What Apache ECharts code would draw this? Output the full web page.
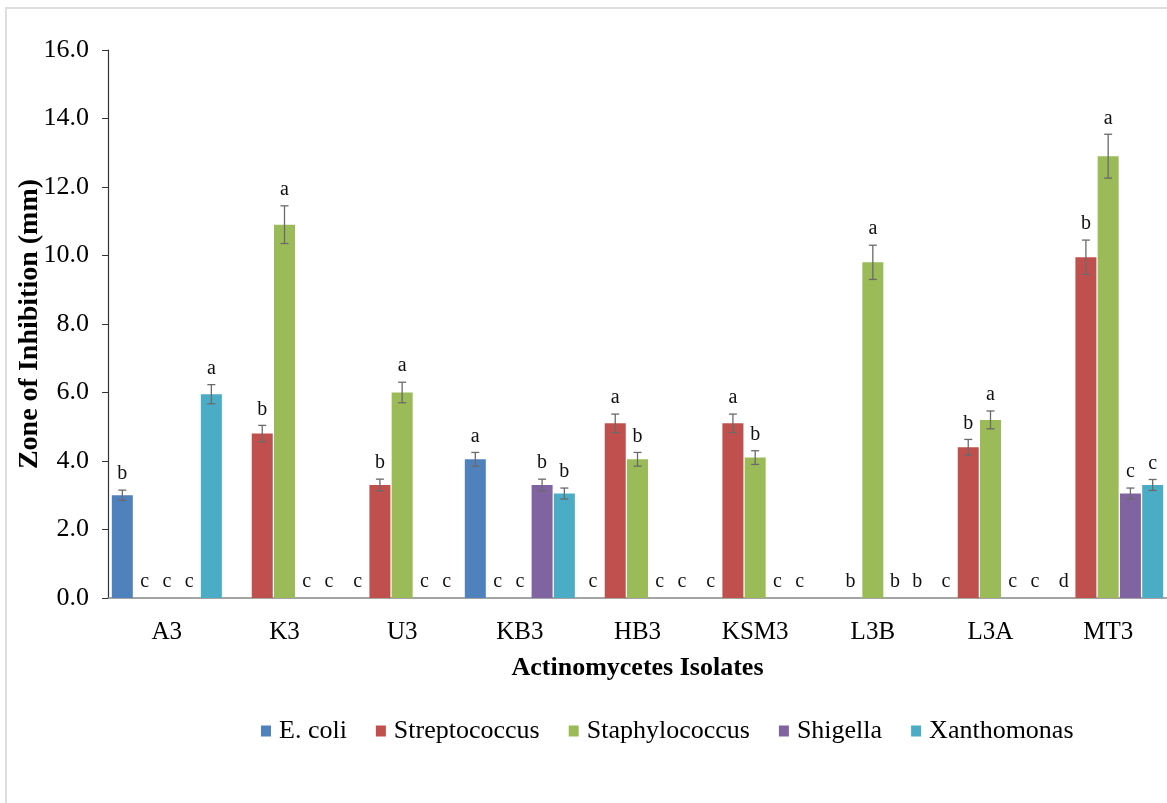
<!DOCTYPE html>
<html>
<head>
<meta charset="utf-8">
<script src="https://cdn.jsdelivr.net/npm/echarts@6/dist/echarts.min.js"></script>
<style>
html,body{margin:0;padding:0;background:#fff;overflow:hidden;}
#frame{position:absolute;left:5px;top:7px;width:1300px;height:900px;border:2px solid #dedede;}
#chart{position:absolute;left:0;top:0;width:1167px;height:803px;}
</style>
</head>
<body>
<div id="frame"></div>
<div id="chart"></div>
<script>
var isolates = ['A3','K3','U3','KB3','HB3','KSM3','L3B','L3A','MT3'];
var bacteria = ['E. coli','Streptococcus','Staphylococcus','Shigella','Xanthomonas'];
var colors = ['#4F81BD','#C0504D','#9BBB59','#8064A2','#4BACC6'];

// zone of inhibition (mm), per bacterium, over isolates
var ecoli   = [3.0, 0, 0, 4.05, 0, 0, 0, 0, 0];
var strep   = [0, 4.8, 3.3, 0, 5.1, 5.1, 0, 4.4, 9.95];
var staph   = [0, 10.9, 6.0, 0, 4.05, 4.1, 9.8, 5.2, 12.9];
var shig    = [0, 0, 0, 3.3, 0, 0, 0, 0, 3.05];
var xanth   = [5.95, 0, 0, 3.05, 0, 0, 0, 0, 3.3];

// error (+/-)
var ecoliErr = [0.15, 0, 0, 0.2, 0, 0, 0, 0, 0];
var strepErr = [0, 0.24, 0.17, 0, 0.27, 0.27, 0, 0.23, 0.5];
var staphErr = [0, 0.55, 0.3, 0, 0.2, 0.2, 0.5, 0.26, 0.64];
var shigErr  = [0, 0, 0, 0.17, 0, 0, 0, 0, 0.16];
var xanthErr = [0.28, 0, 0, 0.16, 0, 0, 0, 0, 0.16];

// significance letters ('' = none)
var ecoliLet = ['b','','c','a','c','c','','c','d'];
var strepLet = ['c','b','b','c','a','a','b','b','b'];
var staphLet = ['c','a','a','c','b','b','a','a','a'];
var shigLet  = ['c','c','c','b','c','c','b','c','c'];
var xanthLet = ['a','c','c','b','c','c','b','c','c'];

var yTicks = [0, 2, 4, 6, 8, 10, 12, 14, 16];

var values = [ecoli, strep, staph, shig, xanth];
var errs = [ecoliErr, strepErr, staphErr, shigErr, xanthErr];
var letters = [ecoliLet, strepLet, staphLet, shigLet, xanthLet];

var FONT = '"Liberation Serif","Times New Roman",serif';
var BAR_W = 21;
var GAP = 0.06;
var PITCH = BAR_W * (1 + GAP);

var chart = echarts.init(document.getElementById('chart'));

function errRender(k){
	return function(params, api){
		var c = api.value(0), v = api.value(1), e = api.value(2);
		var letter = letters[k][params.dataIndex];
		var base = api.coord([c, v]);
		var x = base[0] + (k - 2) * PITCH;
		var top = api.coord([c, v + e])[1];
		var bot = api.coord([c, v - e])[1];
		var children = [];
		var st = {stroke:'#6a6a6a', lineWidth:1.3};
		if(e > 0){
			children.push({type:'line', shape:{x1:x, y1:top, x2:x, y2:bot}, style:st});
			children.push({type:'line', shape:{x1:x-4, y1:top, x2:x+4, y2:top}, style:st});
			children.push({type:'line', shape:{x1:x-4, y1:bot, x2:x+4, y2:bot}, style:st});
		}
		if(letter){
			children.push({type:'text', x:x, y:top - 6, style:{
				text:letter, fill:'#111', font:'20px ' + FONT, align:'center', verticalAlign:'bottom'
			}});
		}
		return {type:'group', children:children};
	};
}

var series = [];
for(var k = 0; k < 5; k++){
	series.push({
		name: bacteria[k],
		type: 'bar',
		barWidth: BAR_W,
		barGap: (GAP*100) + '%',
		itemStyle: {color: colors[k]},
		data: values[k]
	});
}
for(var k = 0; k < 5; k++){
	var d = [];
	for(var j = 0; j < isolates.length; j++){
		d.push([j, values[k][j], errs[k][j]]);
	}
	series.push({
		name: 'err' + k,
		type: 'custom',
		renderItem: errRender(k),
		clip: false,
		z: 5,
		encode: {x: 0, y: 1},
		data: d
	});
}

var option = {
	animation: false,
	textStyle: {fontFamily: FONT},
	grid: {left: 108, right: 0, top: 50, bottom: 205, containLabel: false, outerBoundsMode: 'none'},
	legend: {
		data: bacteria,
		left: 256,
		top: 713,
		itemWidth: 10,
		itemHeight: 11,
		itemGap: 29,
		icon: 'rect',
		textStyle: {fontFamily: FONT, fontSize: 26, color: '#000', padding: [0,0,0,3]}
	},
	xAxis: [{
		type: 'category',
		data: isolates,
		position: 'bottom',
		axisLine: {lineStyle: {color: '#878787', width: 1.5}},
		axisTick: {length: 9, lineStyle: {color: '#333', width: 1.2}},
		axisLabel: {color: '#000', fontSize: 25, fontFamily: FONT, margin: 22},
		name: 'Actinomycetes Isolates',
		nameLocation: 'middle',
		nameGap: 57,
		nameMoveOverlap: false,
		nameTextStyle: {color: '#000', fontSize: 26, fontWeight: 'bold', fontFamily: FONT}
	},{
		type: 'category',
		data: isolates,
		position: 'bottom',
		axisLine: {show: false},
		axisTick: {inside: true, length: 5, lineStyle: {color: '#333', width: 1.2}},
		axisLabel: {show: false}
	}],
	yAxis: {
		type: 'value',
		min: yTicks[0],
		max: yTicks[yTicks.length - 1],
		interval: 2,
		axisLine: {show: true, lineStyle: {color: '#333', width: 1.2}},
		axisTick: {show: true, length: 6, lineStyle: {color: '#333'}},
		splitLine: {show: false},
		axisLabel: {
			color: '#000', fontSize: 26, fontFamily: FONT, margin: 19,
			formatter: function(v){ return v.toFixed(1); }
		},
		name: 'Zone of Inhibition (mm)',
		nameLocation: 'middle',
		nameGap: 64,
		nameMoveOverlap: false,
		nameTextStyle: {color: '#000', fontSize: 28, fontWeight: 'bold', fontFamily: FONT}
	},
	series: series
};
chart.setOption(option);
</script>
</body>
</html>
